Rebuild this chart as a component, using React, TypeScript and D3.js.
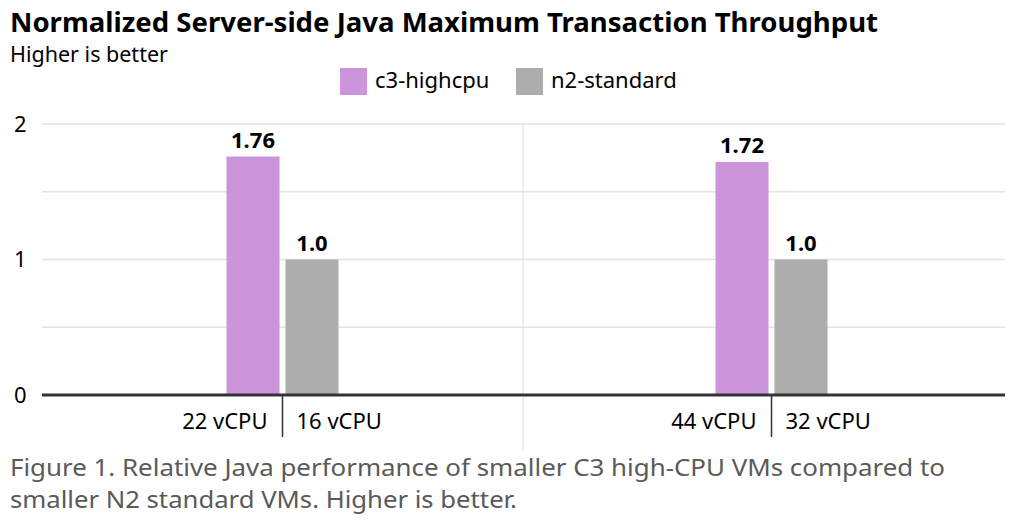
import * as d3 from 'd3';
import React, { useEffect, useRef } from 'react';

const groups = ['g1', 'g2'];
const series = ['c3-highcpu', 'n2-standard'];
const colors = ['#cc94da', '#adadad'];
const c3Values = [1.76, 1.72];
const n2Values = [1.0, 1.0];
const c3Labels = ['22 vCPU', '44 vCPU'];
const n2Labels = ['16 vCPU', '32 vCPU'];
const valueLabels = [['1.76', '1.0'], ['1.72', '1.0']];
const yTicks = [0, 1, 2];
const gridTicks = [0.5, 1, 1.5, 2];

const FONT = "'Noto Sans', 'Open Sans', sans-serif";

export default function App() {
  const svgRef = useRef<SVGSVGElement>(null);
  const width = 1018;
  const height = 520;

  useEffect(() => {
    const svg = d3.select(svgRef.current);
    svg.selectAll('*').remove();
    svg.style('font-family', FONT);

    const left = 42;
    const right = 1005;
    const y = d3.scaleLinear().domain([0, 2]).range([395, 124]);
    const x0 = d3.scaleBand().domain(groups).range([38, 1016]);
    const x1 = d3.scaleBand().domain(series).range([-56, 56]).paddingInner(0.1017);

    // title
    svg.append('text').attr('x', 10).attr('y', 32)
      .text('Normalized Server-side Java Maximum Transaction Throughput')
      .attr('textLength', 868).attr('lengthAdjust', 'spacingAndGlyphs')
      .style('font-size', '26.5px').style('font-weight', 'bold').attr('fill', '#000');
    svg.append('text').attr('x', 10).attr('y', 62)
      .text('Higher is better').style('font-size', '21.5px').attr('fill', '#000');

    // legend
    const legendX = [340, 516];
    series.forEach((s, i) => {
      svg.append('rect').attr('x', legendX[i]).attr('y', 68).attr('width', 27).attr('height', 27).attr('fill', colors[i]);
      svg.append('text').attr('x', legendX[i] + 35).attr('y', 88).text(s)
        .style('font-size', '22px').attr('fill', '#000');
    });

    // grid
    svg.append('g').selectAll('line').data(gridTicks).enter().append('line')
      .attr('x1', left).attr('x2', right)
      .attr('y1', (d) => y(d)).attr('y2', (d) => y(d))
      .attr('stroke', '#e3e3e3').attr('stroke-width', 1.5);

    // group separator
    svg.append('line')
      .attr('x1', 523).attr('x2', 523)
      .attr('y1', y(2)).attr('y2', 450)
      .attr('stroke', '#dddddd').attr('stroke-width', 1);

    // y tick labels
    svg.append('g').selectAll('text').data(yTicks).enter().append('text')
      .attr('x', 14).attr('y', (d) => y(d)).attr('dy', '0.36em')
      .text((d) => d).style('font-size', '22px').attr('fill', '#000');

    // bars
    const data = groups.map((g, i) => ({ g, i, values: [c3Values[i], n2Values[i]] }));
    const gg = svg.append('g').selectAll('g').data(data).enter().append('g')
      .attr('transform', (d) => `translate(${x0(d.g)! + x0.bandwidth() / 2},0)`);

    gg.selectAll('rect').data((d) => d.values.map((v, j) => ({ v, j }))).enter().append('rect')
      .attr('x', (d) => x1(series[d.j])!)
      .attr('width', x1.bandwidth())
      .attr('y', (d) => y(d.v))
      .attr('height', (d) => y(0) - y(d.v))
      .attr('fill', (d) => colors[d.j]);

    gg.selectAll('text.val').data((d) => d.values.map((v, j) => ({ v, j, label: valueLabels[d.i][j] }))).enter().append('text')
      .attr('class', 'val')
      .attr('x', (d) => x1(series[d.j])! + x1.bandwidth() / 2)
      .attr('y', (d) => y(d.v) - 9)
      .attr('text-anchor', 'middle')
      .text((d) => d.label)
      .style('font-size', '22px').style('font-weight', 'bold').attr('fill', '#000');

    // category ticks and labels
    gg.append('line').attr('x1', 0).attr('x2', 0).attr('y1', y(0)).attr('y2', 437)
      .attr('stroke', '#333').attr('stroke-width', 1.5);
    gg.append('text').attr('x', -15).attr('y', 429).attr('text-anchor', 'end')
      .text((d) => c3Labels[d.i]).style('font-size', '22px').attr('fill', '#000');
    gg.append('text').attr('x', 14).attr('y', 429).attr('text-anchor', 'start')
      .text((d) => n2Labels[d.i]).style('font-size', '22px').attr('fill', '#000');

    // baseline axis
    svg.append('line').attr('x1', left).attr('x2', right)
      .attr('y1', y(0)).attr('y2', y(0))
      .attr('stroke', '#333').attr('stroke-width', 3);

    // caption
    const cap = svg.append('text').style('font-size', '24px').attr('fill', '#5a5a5a');
    cap.append('tspan').attr('x', 10).attr('y', 476)
      .attr('textLength', 935).attr('lengthAdjust', 'spacingAndGlyphs')
      .text('Figure 1. Relative Java performance of smaller C3 high-CPU VMs compared to');
    cap.append('tspan').attr('x', 10).attr('y', 508)
      .attr('textLength', 507).attr('lengthAdjust', 'spacingAndGlyphs')
      .text('smaller N2 standard VMs. Higher is better.');
  }, []);

  return (
    <svg ref={svgRef} width={width} height={height}
      style={{ position: 'absolute', left: 0, top: 0, background: '#fff' }} />
  );
}
